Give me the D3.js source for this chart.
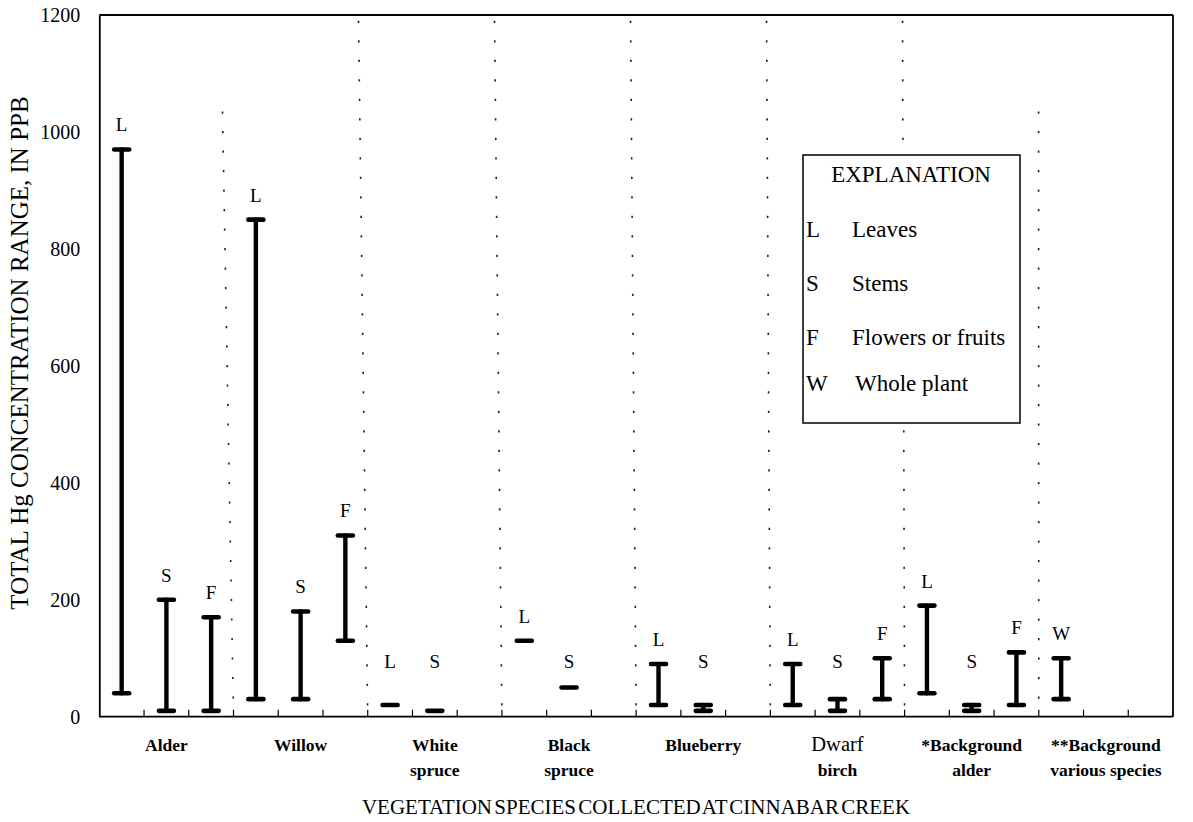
<!DOCTYPE html>
<html>
<head>
<meta charset="utf-8">
<script src="https://cdn.jsdelivr.net/npm/d3@7/dist/d3.min.js"></script>
<style>
  html, body { margin: 0; padding: 0; background: #fff; }
  svg { display: block; }
  svg text { font-family: "Liberation Serif", "Times New Roman", serif; fill: #000; }
</style>
</head>
<body>
<svg id="chart" width="1193" height="822" font-family="Liberation Serif, serif"></svg>
<script>
// Species groups (label lines) along the x axis
const categories = [
  ["Alder"], ["Willow"], ["White", "spruce"], ["Black", "spruce"],
  ["Blueberry"], ["Dwarf", "birch"], ["*Background", "alder"],
  ["**Background", "various species"]
];
// label lines set in plain (not bold) type
const plainLines = new Set(["Dwarf"]);

// One entry per sampled plant part: group index, part code, min and max Hg (ppb)
const sampleGroup = [0, 0, 0, 1, 1, 1, 2, 2, 3, 3, 4, 4, 5, 5, 5, 6, 6, 6, 7];
const samplePart  = ["L","S","F","L","S","F","L","S","L","S","L","S","L","S","F","L","S","F","W"];
const rangeMin    = [40, 10, 10, 30, 30, 130, 20, 10, 130, 50, 20, 10, 20, 10, 30, 40, 10, 20, 30];
const rangeMax    = [970, 200, 170, 850, 180, 310, 20, 10, 130, 50, 90, 20, 90, 30, 100, 190, 20, 110, 100];

// Y axis ticks
const yTicks = [0, 200, 400, 600, 800, 1000, 1200];

// Explanation box entries
const legendCodes = ["L", "S", "F", "W"];
const legendNames = ["Leaves", "Stems", "Flowers or fruits", "Whole plant"];

const svg = d3.select("#chart");
const serif = '"Liberation Serif", "Times New Roman", serif';
const plot = { left: 99.3, right: 1173, top: 15, bottom: 716.7 };
const slotsPerGroup = 3;

const y = d3.scaleLinear().domain([0, 1200]).range([plot.bottom, plot.top]);
const xGroup = d3.scaleBand().domain(d3.range(categories.length))
  .range([plot.left, plot.right]).padding(0);
const xSlot = d3.scaleBand().domain(d3.range(slotsPerGroup))
  .range([0, xGroup.bandwidth()]).padding(0);

// slot index of each sample inside its group
const seen = {};
const samples = sampleGroup.map((g, i) => {
  const slot = seen[g] = (seen[g] === undefined ? 0 : seen[g] + 1);
  return { group: g, slot, part: samplePart[i], min: rangeMin[i], max: rangeMax[i] };
});
const cx = d => xGroup(d.group) + xSlot(d.slot) + xSlot.bandwidth() / 2;

// dotted separators between species groups (two of them start lower)
const sepGroups = d3.range(1, categories.length);
const shortSeps = new Set([1, 7]);
svg.append("g").selectAll("line").data(sepGroups).join("line")
  .attr("x1", g => xGroup(g) - (11 - 1.8 * (g - 1)))
  .attr("x2", g => xGroup(g))
  .attr("y1", g => shortSeps.has(g) ? y(1035) : y(1190))
  .attr("y2", plot.bottom)
  .attr("stroke", "#222").attr("stroke-width", 1.6)
  .attr("stroke-dasharray", "2.2,17.3");

// frame: top and right borders
svg.append("line").attr("x1", plot.left).attr("x2", plot.right)
  .attr("y1", plot.top).attr("y2", plot.top)
  .attr("stroke", "#000").attr("stroke-width", 1.8);
svg.append("line").attr("x1", plot.right).attr("x2", plot.right)
  .attr("y1", plot.top).attr("y2", plot.bottom)
  .attr("stroke", "#000").attr("stroke-width", 1.8);

// y axis
const yAxis = svg.append("g").attr("transform", `translate(${plot.left},0)`)
  .call(d3.axisLeft(y).tickValues(yTicks).tickSize(0).tickPadding(19).tickFormat(d3.format("d")))
  .attr("font-family", serif).attr("font-size", 20);
yAxis.select(".domain").attr("stroke", "#000").attr("stroke-width", 1.8);
yAxis.selectAll("text").attr("fill", "#000").style("font-family", serif).style("font-size", "20px");

// x axis with ticks at every slot boundary, pointing inward
const slotEdges = d3.range(1, categories.length * slotsPerGroup);
const edgeX = k => xGroup(Math.floor(k / slotsPerGroup)) + xSlot(k % slotsPerGroup);
const xAxis = svg.append("g").attr("transform", `translate(0,${plot.bottom})`);
xAxis.append("line").attr("x1", plot.left).attr("x2", plot.right)
  .attr("stroke", "#000").attr("stroke-width", 1.8);
xAxis.selectAll("line.tick").data(slotEdges).join("line").attr("class", "tick")
  .attr("x1", edgeX).attr("x2", edgeX)
  .attr("y1", 0).attr("y2", -7)
  .attr("stroke", "#000").attr("stroke-width", 1.2);

// category labels
const catG = svg.append("g").selectAll("text").data(categories).join("text")
  .attr("x", (d, i) => xGroup(i) + xGroup.bandwidth() / 2)
  .attr("y", 751)
  .attr("text-anchor", "middle")
  .attr("font-size", 17.5)
  .attr("font-weight", "bold");
catG.selectAll("tspan").data(d => d).join("tspan")
  .attr("x", function () { return this.parentNode.getAttribute("x"); })
  .attr("dy", (d, i) => i === 0 ? 0 : 25)
  .attr("font-weight", d => plainLines.has(d) ? "normal" : null)
  .attr("font-size", d => plainLines.has(d) ? 20.5 : null)
  .text(d => d);

// range bars
const barG = svg.append("g").attr("stroke", "#000").attr("stroke-linecap", "round");
const capHalf = 7.5;
barG.selectAll("line.stem").data(samples.filter(d => d.max > d.min)).join("line")
  .attr("class", "stem")
  .attr("x1", cx).attr("x2", cx)
  .attr("y1", d => y(d.max)).attr("y2", d => y(d.min))
  .attr("stroke-width", 4.4);
const caps = samples.flatMap(d => d.max > d.min ? [[d, d.max], [d, d.min]] : [[d, d.max]]);
barG.selectAll("line.cap").data(caps).join("line")
  .attr("class", "cap")
  .attr("x1", c => cx(c[0]) - capHalf).attr("x2", c => cx(c[0]) + capHalf)
  .attr("y1", c => y(c[1])).attr("y2", c => y(c[1]))
  .attr("stroke-width", 4.6);

// part letters above each bar
svg.append("g").selectAll("text").data(samples).join("text")
  .attr("x", cx)
  .attr("y", d => Math.min(y(d.max) - 25, y(95)) + 7)
  .attr("text-anchor", "middle")
  .attr("font-size", 19)
  .text(d => d.part);

// axis titles
svg.append("text")
  .attr("transform", `translate(28,353) rotate(-90)`)
  .attr("text-anchor", "middle")
  .attr("font-size", 25)
  .text("TOTAL Hg CONCENTRATION RANGE, IN PPB");
svg.append("text")
  .attr("x", 636).attr("y", 814)
  .attr("text-anchor", "middle")
  .attr("font-size", 21)
  .attr("word-spacing", -3)
  .text("VEGETATION SPECIES COLLECTED AT CINNABAR CREEK");

// explanation box
const lg = svg.append("g");
lg.append("rect").attr("x", 803).attr("y", 155).attr("width", 217).attr("height", 268)
  .attr("fill", "#fff").attr("stroke", "#000").attr("stroke-width", 1.5);
lg.append("text").attr("x", 911).attr("y", 182).attr("text-anchor", "middle")
  .attr("font-size", 23).text("EXPLANATION");
const rowY = [237, 291, 345, 391];
lg.selectAll("text.code").data(legendCodes).join("text").attr("class", "code")
  .attr("x", 806).attr("y", (d, i) => rowY[i]).attr("font-size", 23).text(d => d);
lg.selectAll("text.name").data(legendNames).join("text").attr("class", "name")
  .attr("x", (d, i) => i === 3 ? 855 : 852).attr("y", (d, i) => rowY[i])
  .attr("font-size", 23).text(d => d);
</script>
</body>
</html>
